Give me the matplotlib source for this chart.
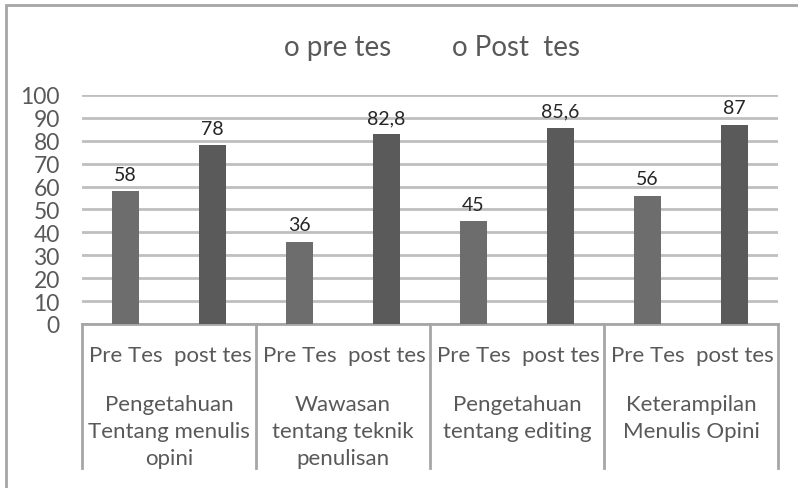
import matplotlib.pyplot as plt
import numpy as np
from matplotlib.lines import Line2D
from matplotlib.patches import Rectangle

plt.rcParams['font.family'] = ['Lato', 'DejaVu Sans']

groups = ["Pengetahuan\nTentang menulis\nopini",
          "Wawasan\ntentang teknik\npenulisan",
          "Pengetahuan\ntentang editing",
          "Keterampilan\nMenulis Opini"]
sub_labels = ["Pre Tes", "post tes"]
pre_tes = [58, 36, 45, 56]
post_tes = [78, 82.8, 85.6, 87]
legend_labels = ["o pre tes", "o Post  tes"]

grey_text = "#595959"
grid_col = "#bfbfbf"

fig = plt.figure(figsize=(7.98, 4.89), dpi=100)
ax = fig.add_axes([0.1028, 0.3354, 0.8722, 0.4683])

n = len(groups)
x = np.arange(2 * n)
values = []
for a, b in zip(pre_tes, post_tes):
    values += [a, b]
colors = ["#6d6d6d", "#5a5a5a"] * n

ax.bar(x, values, width=0.31, color=colors, zorder=3)

for xi, v in zip(x, values):
    txt = ("%g" % v).replace(".", ",")
    ax.annotate(txt, (xi, v), xytext=(0, 6), textcoords="offset points",
                ha="center", va="bottom", fontsize=14, color="#262626")

ax.set_xlim(-0.5, 2 * n - 0.5)
ax.set_ylim(0, 100)
ax.set_yticks(np.arange(0, 101, 10))
ax.yaxis.grid(True, color=grid_col, linewidth=2, zorder=0)
ax.tick_params(axis="y", length=0, pad=16, labelsize=16.5, labelcolor=grey_text)
ax.set_xticks([])
for s in ["top", "right", "left"]:
    ax.spines[s].set_visible(False)
ax.spines["bottom"].set_color("#a6a6a6")
ax.spines["bottom"].set_linewidth(2)

# category labels
trans = ax.get_xaxis_transform()
for xi in x:
    ax.text(xi, -0.135, sub_labels[xi % 2], transform=trans, ha="center",
            va="center", fontsize=16, color=grey_text)
for g in range(n):
    ax.text(2 * g + 0.5, -0.306, groups[g], transform=trans, ha="center",
            va="top", fontsize=16, color=grey_text, linespacing=1.42)

# group separators
for b in np.arange(-0.5, 2 * n, 2):
    ax.add_line(Line2D([b, b], [0, -0.63], transform=trans, color="#a6a6a6",
                       linewidth=2, clip_on=False))

# legend text
fig.text(0.4225, 0.902, legend_labels[0], ha="center", va="center",
         fontsize=20, color=grey_text)
fig.text(0.647, 0.902, legend_labels[1], ha="center", va="center",
         fontsize=20, color=grey_text)

# outer chart border
fig.patches.append(Rectangle((0.0075, -0.1), 1.1, 1.088, transform=fig.transFigure,
                             fill=False, edgecolor="#a6a6a6", linewidth=2))

fig.savefig("out.png", dpi=100)
